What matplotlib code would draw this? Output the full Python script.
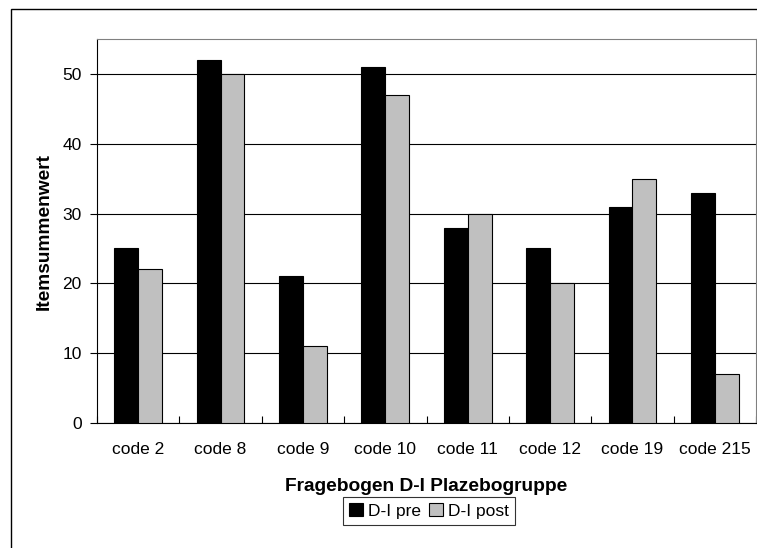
import matplotlib
matplotlib.use("Agg")
import matplotlib.pyplot as plt
from matplotlib.patches import Rectangle
import numpy as np

plt.rcParams['font.family'] = ['Liberation Sans', 'DejaVu Sans']

categories = ["code 2", "code 8", "code 9", "code 10", "code 11", "code 12", "code 19", "code 215"]
pre = [25, 52, 21, 51, 28, 25, 31, 33]
post = [22, 50, 11, 47, 30, 20, 35, 7]
series_names = ["D-I pre", "D-I post"]
yticks = [0, 10, 20, 30, 40, 50]

fig = plt.figure(figsize=(7.57, 5.48), dpi=100)
fig.patch.set_facecolor("white")
fig.patches.append(Rectangle((11/757, -0.1), 1.0, 1 - 9/548 + 0.1, transform=fig.transFigure,
                             fill=False, edgecolor="black", linewidth=1.0))

ax = fig.add_axes([97/757, (548-423)/548, (756-97)/757, (423-39)/548])
x = np.arange(len(categories))
w = 0.29
ax.bar(x - w/2, pre, w, color="black", edgecolor="black", linewidth=0.8, label=series_names[0], zorder=3)
ax.bar(x + w/2, post, w, color="#C0C0C0", edgecolor="black", linewidth=0.8, label=series_names[1], zorder=3)

ax.set_xlim(-0.5, len(categories) - 0.5)
ax.set_ylim(0, 55)
ax.set_yticks(yticks)
ax.set_xticks(np.arange(len(categories) + 1) - 0.5, minor=False)
ax.set_xticklabels([])
ax.set_xticks(x, minor=True)
ax.set_xticklabels(categories, minor=True)
ax.tick_params(axis="x", which="minor", length=0, pad=14, labelsize=12.5)
ax.tick_params(axis="x", which="major", direction="in", length=5, width=0.8)
ax.tick_params(axis="y", direction="out", length=5, width=0.8, labelsize=12.5, pad=6)
ax.yaxis.grid(True, color="black", linewidth=0.8, zorder=0)
ax.set_axisbelow(True)
for s in ["top", "right"]:
    ax.spines[s].set_color("#808080")
for s in ["left", "bottom"]:
    ax.spines[s].set_color("black")
for s in ax.spines.values():
    s.set_linewidth(0.8)

ax.set_ylabel("Itemsummenwert", fontsize=13.8, fontweight="bold", labelpad=7)
ax.set_xlabel("Fragebogen D-I Plazebogruppe", fontsize=13.8, fontweight="bold", labelpad=15)

leg = fig.legend(loc="center", bbox_to_anchor=(429/757, 1 - 511/548), ncol=2, fontsize=12.5,
                 frameon=True, fancybox=False, edgecolor="black", handlelength=0.8, handleheight=0.8,
                 handletextpad=0.3, columnspacing=0.5, borderpad=0.35, borderaxespad=0)
leg.get_frame().set_linewidth(0.8)

fig.savefig("out.png", dpi=100)
